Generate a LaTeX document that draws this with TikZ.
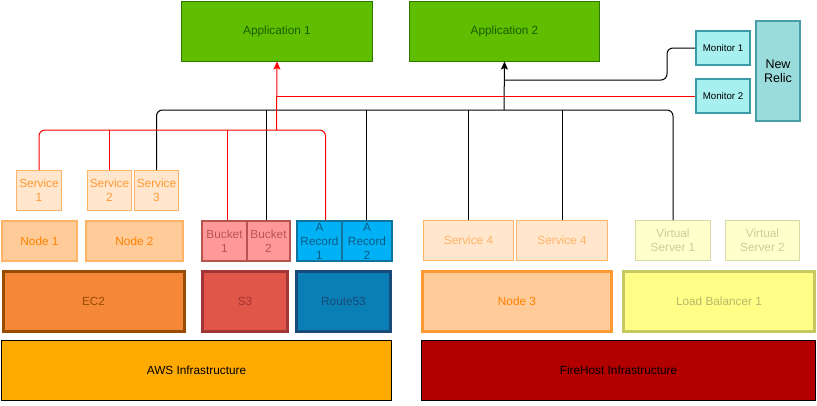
\documentclass[tikz,border=0pt]{standalone}
\usepackage{fontspec}
\setmainfont{Liberation Sans}
\usepackage{tikz}
\usetikzlibrary{arrows.meta, calc}

\definecolor{appfill}{HTML}{60BE00}
\definecolor{appline}{HTML}{2D7600}
\definecolor{apptext}{HTML}{1A5E00}
\definecolor{svcfill}{HTML}{FFE6CC}
\definecolor{svcline}{HTML}{FFB366}
\definecolor{svctext}{HTML}{FF9933}
\definecolor{nodefill}{HTML}{FFCC99}
\definecolor{nodetext}{HTML}{FF8000}
\definecolor{bktfill}{HTML}{FF9999}
\definecolor{bktline}{HTML}{B85450}
\definecolor{arecfill}{HTML}{00B2F5}
\definecolor{arecline}{HTML}{10739E}
\definecolor{arectext}{HTML}{0E5A86}
\definecolor{vsfill}{HTML}{FFFFCC}
\definecolor{vsline}{HTML}{D8D8A8}
\definecolor{vstext}{HTML}{CCCC99}
\definecolor{ecfill}{HTML}{F48838}
\definecolor{ecline}{HTML}{994C00}
\definecolor{sfill}{HTML}{E05648}
\definecolor{sline}{HTML}{A23535}
\definecolor{rfill}{HTML}{0A7FB5}
\definecolor{rline}{HTML}{1A4A7A}
\definecolor{lbfill}{HTML}{FFFF88}
\definecolor{lbline}{HTML}{C8C860}
\definecolor{lbtext}{HTML}{B8B866}
\definecolor{awsfill}{HTML}{FFAA00}
\definecolor{firefill}{HTML}{B20000}
\definecolor{monfill}{HTML}{A8EFEF}
\definecolor{monline}{HTML}{3A9CA6}
\definecolor{relicfill}{HTML}{9ADBDB}
\definecolor{relicline}{HTML}{4A9CA6}

\begin{document}
\begin{tikzpicture}[x=1pt, y=-1pt,
	box/.style = {draw, anchor=north west, inner sep=0pt, align=center,
		font=\fontsize{11.8}{14}\selectfont},
	wh/.style 2 args = {minimum width=#1, minimum height=#2},
	app/.style = {box, fill=appfill, draw=appline, text=apptext, line width=1pt},
	svc/.style = {box, fill=svcfill, draw=svcline, text=svctext, line width=1pt},
	wire/.style = {black, line width=1pt},
	redwire/.style = {red, line width=1pt},
	tip/.style = {-{Stealth[length=8pt, width=7pt, inset=1.5pt]}}
]
\useasboundingbox (0,0) rectangle (817,405);

% applications and monitoring
\node[app, wh={191}{60}] (app1) at (181,0.5) {Application 1};
\node[app, wh={190}{60}] (app2) at (409,0.5) {Application 2};
\node[box, wh={54}{34}, fill=monfill, draw=monline, line width=2pt,
	font=\fontsize{9.7}{11}\selectfont] (mon1) at (695,30) {Monitor 1};
\node[box, wh={54}{34}, fill=monfill, draw=monline, line width=2pt,
	font=\fontsize{9.7}{11}\selectfont] (mon2) at (695,78) {Monitor 2};
\node[box, wh={44}{100}, fill=relicfill, draw=relicline, line width=2pt,
	font=\fontsize{12.5}{14}\selectfont] (relic) at (755,20) {New\\Relic};

% services
\node[svc, wh={45}{40}] (svc1) at (16,170) {Service\\1};
\node[svc, wh={44}{40}] (svc2) at (87,170) {Service\\2};
\node[svc, wh={44}{40}] (svc3) at (134,170) {Service\\3};

\node[svc, wh={75}{40}, fill=nodefill, text=nodetext, line width=2pt] (node1) at (1,220) {Node 1};
\node[svc, wh={97}{40}, fill=nodefill, text=nodetext, line width=2pt] (node2) at (85,220) {Node 2};
\node[box, wh={45}{40}, fill=bktfill, draw=bktline, text=bktline, line width=2pt] (bkt1) at (201,220) {Bucket\\1};
\node[box, wh={43}{40}, fill=bktfill, draw=bktline, text=bktline, line width=2pt] (bkt2) at (246,220) {Bucket\\2};
\node[box, wh={45}{40}, fill=arecfill, draw=arecline, text=arectext, line width=2pt] (arec1) at (296,220) {A\\Record\\1};
\node[box, wh={50}{40}, fill=arecfill, draw=arecline, text=arectext, line width=2pt] (arec2) at (341,220) {A\\Record\\2};
\node[svc, wh={90}{40}, text=svcline] (svc4a) at (423,220) {Service 4};
\node[svc, wh={91}{40}, text=svcline] (svc4b) at (516,220) {Service 4};
\node[box, wh={75}{40}, fill=vsfill, draw=vsline, text=vstext, line width=1pt] (vs1) at (635,220) {Virtual\\Server 1};
\node[box, wh={74}{40}, fill=vsfill, draw=vsline, text=vstext, line width=1pt] (vs2) at (725,220) {Virtual\\Server 2};

% platforms
\node[box, wh={181}{60}, fill=ecfill, draw=ecline, text=ecline, line width=3pt] (ec2) at (1.5,270) {EC2};
\node[box, wh={85}{60}, fill=sfill, draw=sline, text=sline, line width=3pt] (s3) at (201,270) {S3};
\node[box, wh={94}{60}, fill=rfill, draw=rline, text=rline, line width=3pt] (r53) at (295,270) {Route53};
\node[box, wh={189}{60}, fill=nodefill, draw=svctext, text=nodetext, line width=3pt] (node3) at (421,270) {Node 3};
\node[box, wh={191}{60}, fill=lbfill, draw=lbline, text=lbtext, line width=3pt] (lb1) at (622,270) {Load Balancer 1};
\node[box, wh={390}{60}, fill=awsfill, line width=1pt] (aws) at (1,340) {AWS Infrastructure};
\node[box, wh={394}{60}, fill=firefill, line width=1pt] (fire) at (421,340) {FireHost Infrastructure};

% black bus to application 2
\coordinate (bbus) at (504,110);
\coordinate (mjoin) at (504,80);
\draw[wire, rounded corners=6] (svc3.north) |- (bbus) -| (vs1.north);
\draw[wire] ([xshift=-2]bkt2.north) -- ([xshift=-2]bkt2.north |- bbus);
\draw[wire] ([xshift=-1]arec2.north) -- ([xshift=-1]arec2.north |- bbus);
\draw[wire] (svc4a.north) -- (svc4a.north |- bbus);
\draw[wire] (svc4b.north) -- (svc4b.north |- bbus);
\draw[wire, tip] (bbus) -- (app2.south);
\draw[wire, rounded corners=6] (mon1.west) -- ++(-28,0) |- (mjoin);

% red bus to application 1
\coordinate (rbus) at (276.5,130);
\draw[redwire, rounded corners=6] (svc1.north) |- (rbus) -| ([xshift=6]arec1.north);
\draw[redwire] (svc2.north) -- (svc2.north |- rbus);
\draw[redwire] ([xshift=3]bkt1.north) -- ([xshift=3]bkt1.north |- rbus);
\draw[redwire, tip] (rbus) -- (app1.south);
\draw[redwire] (mon2.west) -- (mon2.west -| rbus);
\end{tikzpicture}
\end{document}
